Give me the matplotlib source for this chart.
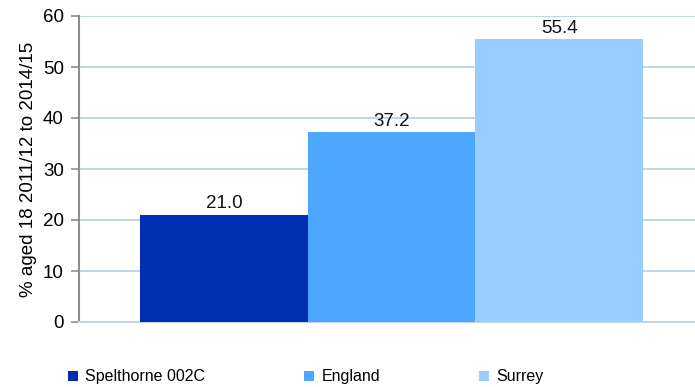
import matplotlib
matplotlib.use("Agg")
import matplotlib.pyplot as plt
from matplotlib.patches import Patch

areas = ["Spelthorne 002C", "England", "Surrey"]
values = [21.0, 37.2, 55.4]
colors = ["#002EB3", "#4DA6FF", "#99CCFF"]
yticks = [0, 10, 20, 30, 40, 50, 60]

plt.rcParams["font.family"] = ["Liberation Sans", "DejaVu Sans"]
plt.rcParams["font.size"] = 11

fig = plt.figure(figsize=(6.95, 3.87), dpi=100)
ax = fig.add_axes([79 / 695, 1 - 322 / 387, 616 / 695, 306 / 387])

x = list(range(len(areas)))
bars = ax.bar(x, values, width=1.0, color=colors, zorder=3)
for b, v in zip(bars, values):
    ax.annotate(f"{v:.1f}", (b.get_x() + b.get_width() / 2, v),
                xytext=(0, 2), textcoords="offset points",
                ha="center", va="bottom", fontsize=13.5, color="#111111")

ax.set_xlim(-0.865, 2.81)
ax.set_ylim(0, 60)
ax.set_yticks(yticks)
ax.set_xticks([])
ax.yaxis.grid(True, color="#C5D5E8", linewidth=1.5, zorder=0)
ax.set_axisbelow(True)
for side in ["top", "right"]:
    ax.spines[side].set_visible(False)
ax.spines["bottom"].set_color("#C5D5E8")
ax.spines["bottom"].set_linewidth(1.5)
ax.spines["left"].set_color("#8C8C8C")
ax.spines["left"].set_linewidth(1.5)
ax.tick_params(axis="y", length=6, width=1.2, color="#8C8C8C", labelsize=13.5, pad=5)
ax.set_ylabel("% aged 18 2011/12 to 2014/15", fontsize=13.5, labelpad=4)

handles = [Patch(facecolor=c, label=a) for a, c in zip(areas, colors)]
fig.legend(handles=handles, loc="center left", bbox_to_anchor=(54 / 695, 1 - 377 / 387),
           ncol=3, frameon=False, fontsize=11.5, handlelength=0.62, handleheight=0.62,
           handletextpad=0.45, columnspacing=6.2)

fig.savefig("out.png", dpi=100)
